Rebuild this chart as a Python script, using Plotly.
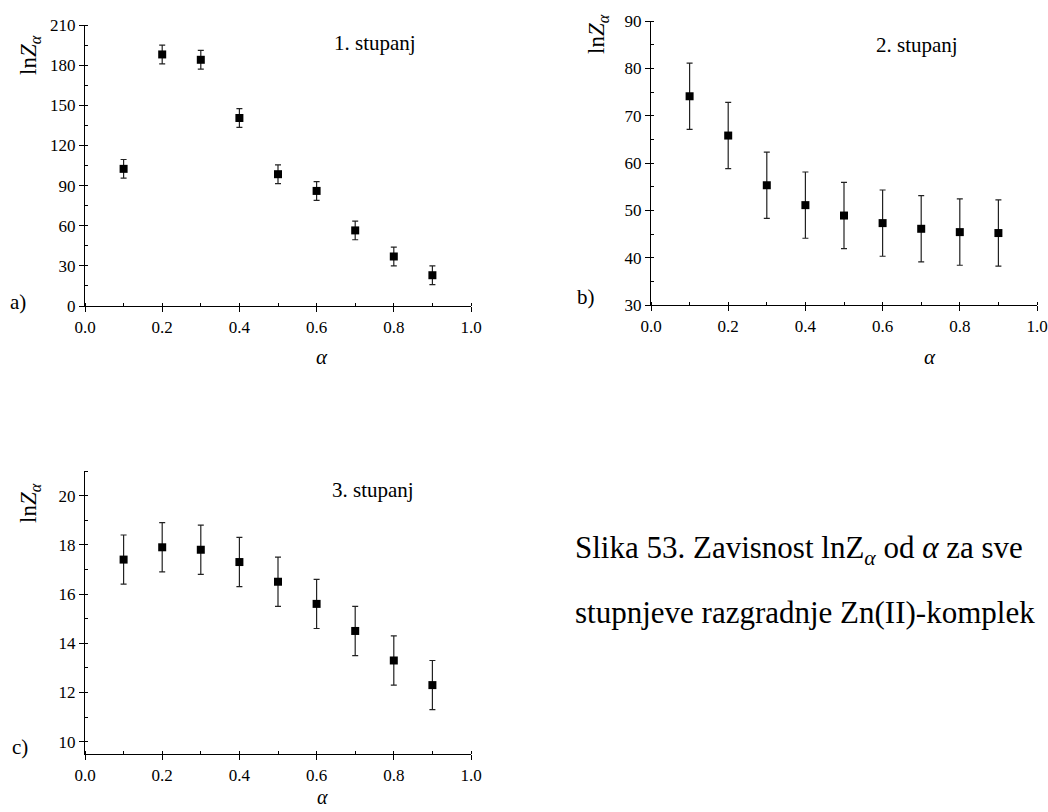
import plotly.graph_objects as go

W, H = 1048, 812

alpha = [0.1, 0.2, 0.3, 0.4, 0.5, 0.6, 0.7, 0.8, 0.9]
lnz_1 = [102.5, 188.0, 184.0, 140.5, 98.5, 86.0, 56.5, 37.0, 23.0]
err_1 = [7, 7, 7, 7, 7, 7, 7, 7, 7]
lnz_2 = [74.1, 65.8, 55.3, 51.1, 48.9, 47.3, 46.1, 45.4, 45.2]
err_2 = [7, 7, 7, 7, 7, 7, 7, 7, 7]
lnz_3 = [17.4, 17.9, 17.8, 17.3, 16.5, 15.6, 14.5, 13.3, 12.3]
err_3 = [1, 1, 1, 1, 1, 1, 1, 1, 1]

FONT = "Liberation Serif"


def px(x):
    return x / W


def py(y):
    return 1 - y / H


fig = go.Figure()

series = [(lnz_1, err_1, "x", "y"), (lnz_2, err_2, "x2", "y2"), (lnz_3, err_3, "x3", "y3")]
for vals, errs, xa, ya in series:
    fig.add_trace(go.Scatter(
        x=alpha, y=vals, mode="markers", xaxis=xa, yaxis=ya,
        marker=dict(symbol="square", size=8, color="black"),
        error_y=dict(type="data", array=errs, visible=True, color="#222222", thickness=1.2, width=3),
        showlegend=False, cliponaxis=False,
    ))


def xax(domain, anchor):
    return dict(
        domain=domain, anchor=anchor, range=[0, 1.0], tick0=0, dtick=0.2,
        tickformat=".1f", showline=True, linecolor="black", linewidth=1.3,
        ticks="outside", ticklen=5, tickwidth=1.1, tickcolor="black",
        showgrid=False, zeroline=False, automargin=False,
        tickfont=dict(family=FONT, size=17, color="black"),
        minor=dict(dtick=0.1, ticks="inside", ticklen=3, tickwidth=1, tickcolor="black", showgrid=False),
    )


def yax(domain, anchor, rng, dtick, mdtick):
    return dict(
        domain=domain, anchor=anchor, range=rng, tick0=0, dtick=dtick,
        showline=True, linecolor="black", linewidth=1.3,
        ticks="outside", ticklen=5, tickwidth=1.1, tickcolor="black",
        showgrid=False, zeroline=False, automargin=False,
        tickfont=dict(family=FONT, size=17, color="black"),
        minor=dict(dtick=mdtick, ticks="inside", ticklen=3, tickwidth=1, tickcolor="black", showgrid=False),
    )


fig.update_layout(
    template="none",
    width=W, height=H,
    margin=dict(l=0, r=0, t=0, b=0, pad=0, autoexpand=False),
    paper_bgcolor="white", plot_bgcolor="white",
    font=dict(family=FONT, color="black"),
    xaxis=xax([px(85), px(471)], "y"),
    yaxis=yax([py(306), py(25)], "x", [0, 210], 30, 15),
    xaxis2=xax([px(651), px(1037)], "y2"),
    yaxis2=yax([py(305), py(21)], "x2", [30, 90], 10, 5),
    xaxis3=xax([px(85), px(471)], "y3"),
    yaxis3=yax([py(754), py(471)], "x3", [9.5, 21], 2, 1),
)

annots = []


def txt(text, x, y, size, angle=0, xanchor="center"):
    annots.append(dict(
        text=text, x=px(x), y=py(y), xref="paper", yref="paper",
        xanchor=xanchor, yanchor="middle", showarrow=False, textangle=angle,
        font=dict(family=FONT, size=size, color="black"),
    ))


ytitle = "ln<i>Z<sub>α</sub></i>"
txt(ytitle, 30, 55, 23, -90)
txt(ytitle, 598, 34, 23, -90)
txt(ytitle, 30, 503, 23, -90)

txt("<i>α</i>", 322, 357, 21)
txt("<i>α</i>", 930, 357, 21)
txt("<i>α</i>", 322, 797, 20)

txt("1. stupanj", 375, 43, 21)
txt("2. stupanj", 917, 45, 21)
txt("3. stupanj", 373, 490, 21)

txt("a)", 18, 302, 21)
txt("b)", 586, 297, 21)
txt("c)", 20, 747, 21)

txt("Slika 53. Zavisnost lnZ<sub><i>α</i></sub> od <i>α</i> za sve", 573, 550, 31, xanchor="left")
txt("stupnjeve razgradnje Zn(II)-komplek", 573, 612, 31, xanchor="left")

fig.update_layout(annotations=annots)

fig.write_html(
    "out.html",
    config={"displayModeBar": False},
    post_script="document.body.style.margin='0';document.body.style.overflow='hidden';",
)
